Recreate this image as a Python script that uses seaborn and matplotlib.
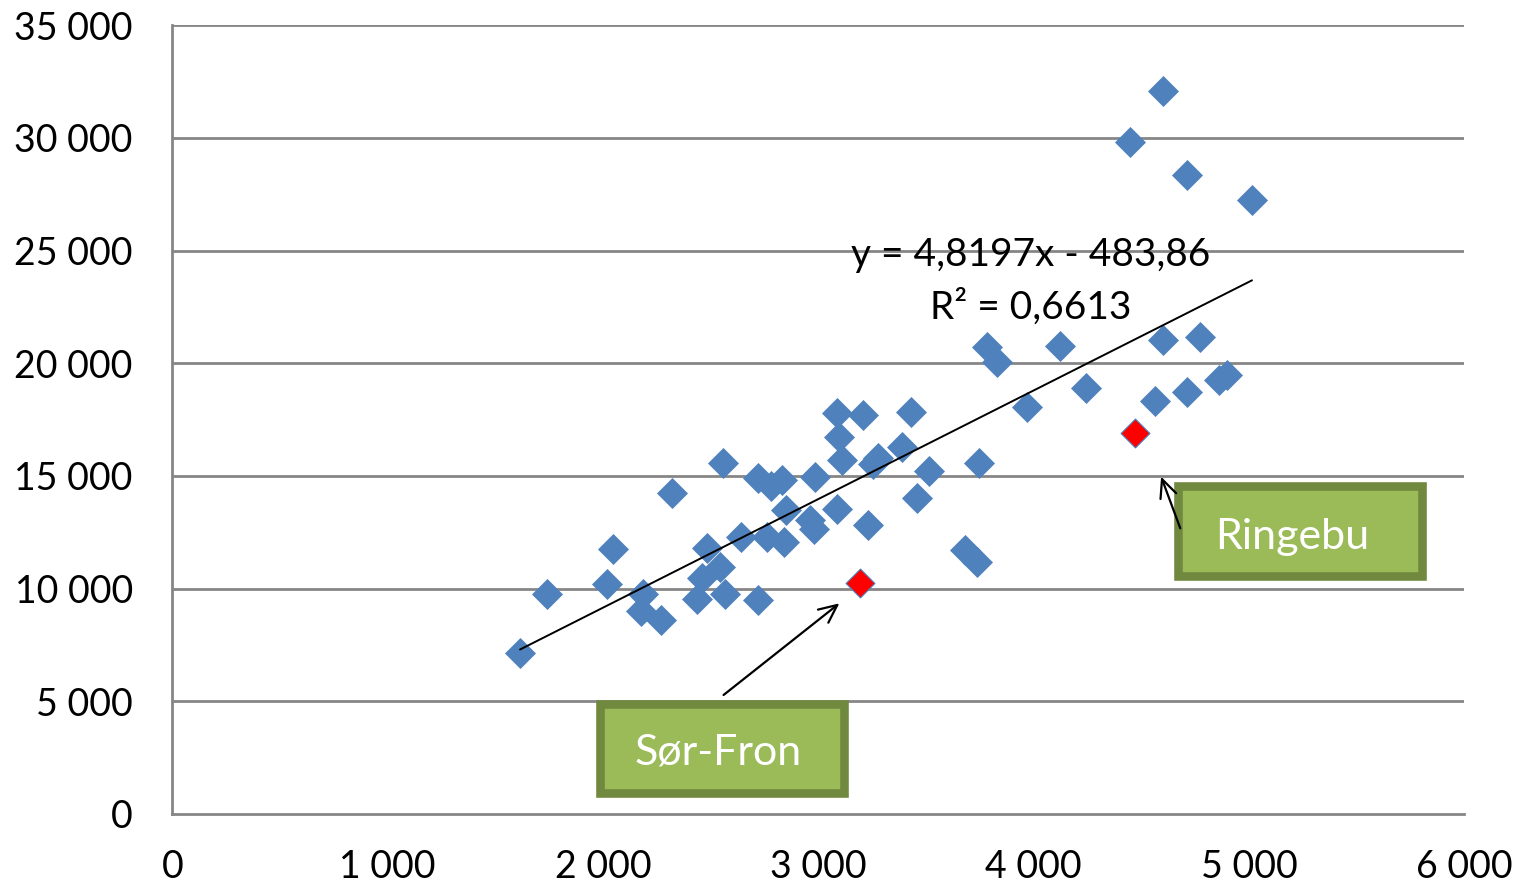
import numpy as np
import pandas as pd
import matplotlib
matplotlib.use("Agg")
import matplotlib.pyplot as plt
import seaborn as sns
from matplotlib.patches import Rectangle
from matplotlib.ticker import FuncFormatter

# ---- data ----
x_blue = [1615, 1740, 2019, 2046, 2186, 2177, 2269, 2321, 2437, 2483,
          2460, 2544, 2558, 2567, 2641, 2720, 2720, 2780, 2762, 2841,
          2832, 2850, 2962, 2980, 2985, 3087, 3087, 3096, 3110, 3208,
          3231, 3254, 3277, 3389, 3430, 3458, 3514, 3681, 3737, 3746,
          3783, 3830, 3969, 4123, 4243, 4448, 4601, 4712, 5014, 4601,
          4773, 4564, 4712, 4861, 4898]
y_blue = [7123, 9785, 10207, 11738, 9785, 9009, 8587, 14267, 9541, 11804,
          10473, 10961, 15577, 9763, 12293, 9497, 14911, 14556, 12293, 12071,
          14822, 13491, 13047, 12648, 14955, 13535, 17795, 16730, 15710, 17707,
          12825, 15532, 15798, 16287, 17840, 14023, 15222, 11716, 11183, 15577,
          20724, 20059, 18062, 20769, 18905, 29822, 32085, 28357, 27248, 21035,
          21168, 18328, 18727, 19260, 19482]
x_red = [3194, 4471]
y_red = [10229, 16908]
red_names = ["Sør-Fron", "Ringebu"]

slope = 4.8197
intercept = -483.86
eq_text = "y = 4,8197x - 483,86"
r2_text = "R² = 0,6613"

x_ticks = [0, 1000, 2000, 3000, 4000, 5000, 6000]
y_ticks = [0, 5000, 10000, 15000, 20000, 25000, 30000, 35000]

# ---- style ----
sns.set_style("white")
plt.rcParams["font.family"] = ["Lato", "DejaVu Sans"]

BLUE = "#4F81BD"
GRID = "#868686"
GREEN_FILL = "#9BBB59"
GREEN_EDGE = "#71893F"

fig = plt.figure(figsize=(15.18, 8.84), dpi=100)
ax = fig.add_axes([172.3 / 1518, 1 - 814 / 884, (1464.3 - 172.3) / 1518, (814 - 25.3) / 884])

df_blue = pd.DataFrame({"x": x_blue, "y": y_blue})
df_red = pd.DataFrame({"x": x_red, "y": y_red, "name": red_names})

# grid lines
for yv in y_ticks[1:]:
    ax.axhline(yv, color=GRID, lw=2.0, zorder=0)

# trend line over the data range
all_x = np.array(x_blue + x_red)
tx = np.array([all_x.min(), all_x.max()])
ax.plot(tx, slope * tx + intercept, color="black", lw=1.4, zorder=3)

sns.scatterplot(data=df_blue, x="x", y="y", marker="D", s=250, color=BLUE,
                linewidth=0, ax=ax, zorder=2)
sns.scatterplot(data=df_red, x="x", y="y", marker="D", s=215, color="#FF0000",
                edgecolor="#4A7EBB", linewidth=0.8, ax=ax, zorder=4)

ax.set_xlim(0, 6000)
ax.set_ylim(0, 35000)
ax.set_xticks(x_ticks)
ax.set_yticks(y_ticks)
fmt = FuncFormatter(lambda v, p: f"{int(v):,}".replace(",", " "))
ax.xaxis.set_major_formatter(fmt)
ax.yaxis.set_major_formatter(fmt)
ax.set_xlabel("")
ax.set_ylabel("")

for side in ["top", "right"]:
    ax.spines[side].set_visible(False)
for side in ["left", "bottom"]:
    ax.spines[side].set_color(GRID)
    ax.spines[side].set_linewidth(2.0)

ax.tick_params(axis="both", which="major", direction="out", length=9.4, width=2.0,
               color=GRID, labelsize=27, labelcolor="black")
ax.tick_params(axis="y", pad=19)
ax.tick_params(axis="x", pad=16)
ax.grid(False)

# equation text
ax.text(3988, 24807, eq_text, ha="center", va="center", fontsize=28, color="black", zorder=5)
ax.text(3988, 22499, r2_text, ha="center", va="center", fontsize=28, color="black", zorder=5)

# callout boxes
boxes = [
    ("Sør-Fron", (1988, 945), (3121, 4868), (2533, 2707), (2560, 5281), (3098, 9350)),
    ("Ringebu", (4672, 10544), (5805, 14543), (5202, 12306), (4681, 12679), (4592, 14969)),
]
for name, (x0, y0), (x1, y1), (tx_, ty_), tail, head in boxes:
    ax.add_patch(Rectangle((x0, y0), x1 - x0, y1 - y0, facecolor=GREEN_FILL,
                           edgecolor=GREEN_EDGE, linewidth=6.2, zorder=6, clip_on=False,
                           joinstyle="miter"))
    ax.text(tx_, ty_, name, ha="center", va="center", fontsize=31, color="white", zorder=7)
    ax.annotate("", xy=head, xytext=tail,
                arrowprops=dict(arrowstyle="->,head_length=1.3,head_width=0.6",
                                color="black", lw=1.6, shrinkA=0, shrinkB=0),
                zorder=7)

fig.savefig("out.png", dpi=100)
